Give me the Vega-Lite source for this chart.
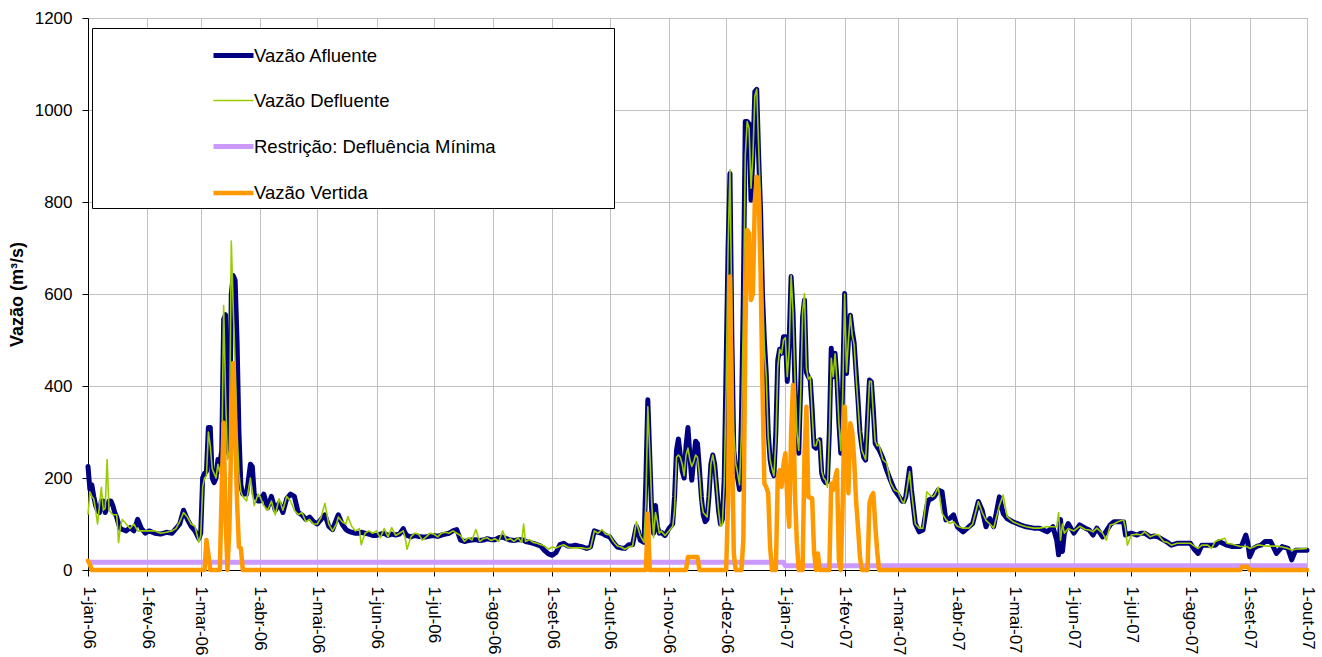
{
"$schema": "https://vega.github.io/schema/vega-lite/v6.json",
"width": 1219, "height": 552,
"autosize": {"type": "none"},
"padding": {"left": 88, "top": 18, "right": 15, "bottom": 87},
"background": "white",
"config": {"view": {"stroke": "#909090", "strokeWidth": 1}, "font": "Liberation Sans"},
"data": {"values": [
{"d":"2006-01-01","a":225,"f":120,"r":17,"v":20},
{"d":"2006-01-02","a":175,"f":170,"r":17,"v":12},
{"d":"2006-01-03","a":185,"f":160,"r":17,"v":0},
{"d":"2006-01-04","a":160,"f":155,"r":17,"v":0},
{"d":"2006-01-05","a":140,"f":130,"r":17,"v":0},
{"d":"2006-01-06","a":130,"f":100,"r":17,"v":0},
{"d":"2006-01-07","a":125,"f":140,"r":17,"v":0},
{"d":"2006-01-08","a":150,"f":180,"r":17,"v":0},
{"d":"2006-01-09","a":150,"f":130,"r":17,"v":0},
{"d":"2006-01-10","a":125,"f":135,"r":17,"v":0},
{"d":"2006-01-11","a":135,"f":240,"r":17,"v":0},
{"d":"2006-01-12","a":150,"f":130,"r":17,"v":0},
{"d":"2006-01-13","a":150,"f":125,"r":17,"v":0},
{"d":"2006-01-14","a":140,"f":120,"r":17,"v":0},
{"d":"2006-01-15","a":125,"f":120,"r":17,"v":0},
{"d":"2006-01-16","a":115,"f":120,"r":17,"v":0},
{"d":"2006-01-17","a":100,"f":60,"r":17,"v":0},
{"d":"2006-01-18","a":90,"f":95,"r":17,"v":0},
{"d":"2006-01-19","a":88,"f":110,"r":17,"v":0},
{"d":"2006-01-21","a":85,"f":100,"r":17,"v":0},
{"d":"2006-01-23","a":92,"f":90,"r":17,"v":0},
{"d":"2006-01-25","a":85,"f":100,"r":17,"v":0},
{"d":"2006-01-27","a":110,"f":85,"r":17,"v":0},
{"d":"2006-01-29","a":90,"f":85,"r":17,"v":0},
{"d":"2006-01-31","a":80,"f":85,"r":17,"v":0},
{"d":"2006-02-02","a":85,"f":85,"r":17,"v":0},
{"d":"2006-02-05","a":80,"f":85,"r":17,"v":0},
{"d":"2006-02-08","a":78,"f":80,"r":17,"v":0},
{"d":"2006-02-11","a":82,"f":82,"r":17,"v":0},
{"d":"2006-02-14","a":80,"f":85,"r":17,"v":0},
{"d":"2006-02-16","a":90,"f":90,"r":17,"v":0},
{"d":"2006-02-18","a":100,"f":105,"r":17,"v":0},
{"d":"2006-02-20","a":130,"f":125,"r":17,"v":0},
{"d":"2006-02-22","a":110,"f":115,"r":17,"v":0},
{"d":"2006-02-24","a":95,"f":100,"r":17,"v":0},
{"d":"2006-02-26","a":85,"f":95,"r":17,"v":0},
{"d":"2006-02-28","a":68,"f":60,"r":17,"v":0},
{"d":"2006-03-01","a":80,"f":75,"r":17,"v":0},
{"d":"2006-03-02","a":200,"f":180,"r":17,"v":0},
{"d":"2006-03-03","a":210,"f":200,"r":17,"v":0},
{"d":"2006-03-04","a":215,"f":205,"r":17,"v":65},
{"d":"2006-03-05","a":310,"f":300,"r":17,"v":35},
{"d":"2006-03-06","a":310,"f":270,"r":17,"v":0},
{"d":"2006-03-07","a":200,"f":220,"r":17,"v":0},
{"d":"2006-03-08","a":190,"f":210,"r":17,"v":0},
{"d":"2006-03-09","a":200,"f":200,"r":17,"v":0},
{"d":"2006-03-10","a":240,"f":230,"r":17,"v":0},
{"d":"2006-03-11","a":230,"f":210,"r":17,"v":0},
{"d":"2006-03-12","a":260,"f":230,"r":17,"v":180},
{"d":"2006-03-13","a":545,"f":575,"r":17,"v":320},
{"d":"2006-03-14","a":555,"f":380,"r":17,"v":110},
{"d":"2006-03-15","a":260,"f":240,"r":17,"v":0},
{"d":"2006-03-16","a":250,"f":260,"r":17,"v":90},
{"d":"2006-03-17","a":600,"f":715,"r":17,"v":300},
{"d":"2006-03-18","a":640,"f":570,"r":17,"v":450},
{"d":"2006-03-19","a":630,"f":450,"r":17,"v":300},
{"d":"2006-03-20","a":500,"f":300,"r":17,"v":150},
{"d":"2006-03-21","a":300,"f":210,"r":17,"v":50},
{"d":"2006-03-22","a":185,"f":170,"r":17,"v":48},
{"d":"2006-03-23","a":165,"f":160,"r":17,"v":0},
{"d":"2006-03-25","a":165,"f":150,"r":17,"v":0},
{"d":"2006-03-27","a":230,"f":200,"r":17,"v":0},
{"d":"2006-03-28","a":225,"f":170,"r":17,"v":0},
{"d":"2006-03-29","a":165,"f":140,"r":17,"v":0},
{"d":"2006-03-31","a":150,"f":165,"r":17,"v":0},
{"d":"2006-04-01","a":150,"f":160,"r":17,"v":0},
{"d":"2006-04-03","a":165,"f":140,"r":17,"v":0},
{"d":"2006-04-05","a":135,"f":130,"r":17,"v":0},
{"d":"2006-04-07","a":160,"f":150,"r":17,"v":0},
{"d":"2006-04-09","a":130,"f":120,"r":17,"v":0},
{"d":"2006-04-11","a":145,"f":155,"r":17,"v":0},
{"d":"2006-04-13","a":125,"f":130,"r":17,"v":0},
{"d":"2006-04-15","a":155,"f":160,"r":17,"v":0},
{"d":"2006-04-17","a":165,"f":150,"r":17,"v":0},
{"d":"2006-04-19","a":160,"f":130,"r":17,"v":0},
{"d":"2006-04-21","a":125,"f":120,"r":17,"v":0},
{"d":"2006-04-23","a":120,"f":125,"r":17,"v":0},
{"d":"2006-04-25","a":110,"f":105,"r":17,"v":0},
{"d":"2006-04-27","a":115,"f":110,"r":17,"v":0},
{"d":"2006-04-29","a":105,"f":100,"r":17,"v":0},
{"d":"2006-05-01","a":100,"f":100,"r":17,"v":0},
{"d":"2006-05-03","a":110,"f":115,"r":17,"v":0},
{"d":"2006-05-05","a":120,"f":145,"r":17,"v":0},
{"d":"2006-05-07","a":95,"f":100,"r":17,"v":0},
{"d":"2006-05-09","a":88,"f":85,"r":17,"v":0},
{"d":"2006-05-11","a":110,"f":100,"r":17,"v":0},
{"d":"2006-05-12","a":120,"f":115,"r":17,"v":0},
{"d":"2006-05-14","a":100,"f":105,"r":17,"v":0},
{"d":"2006-05-16","a":88,"f":100,"r":17,"v":0},
{"d":"2006-05-17","a":85,"f":116,"r":17,"v":0},
{"d":"2006-05-19","a":82,"f":95,"r":17,"v":0},
{"d":"2006-05-21","a":80,"f":85,"r":17,"v":0},
{"d":"2006-05-23","a":80,"f":90,"r":17,"v":0},
{"d":"2006-05-24","a":82,"f":55,"r":17,"v":0},
{"d":"2006-05-26","a":80,"f":80,"r":17,"v":0},
{"d":"2006-05-28","a":78,"f":85,"r":17,"v":0},
{"d":"2006-05-30","a":75,"f":80,"r":17,"v":0},
{"d":"2006-06-01","a":75,"f":85,"r":17,"v":0},
{"d":"2006-06-03","a":78,"f":70,"r":17,"v":0},
{"d":"2006-06-05","a":80,"f":90,"r":17,"v":0},
{"d":"2006-06-07","a":75,"f":72,"r":17,"v":0},
{"d":"2006-06-09","a":78,"f":92,"r":17,"v":0},
{"d":"2006-06-11","a":76,"f":75,"r":17,"v":0},
{"d":"2006-06-13","a":78,"f":80,"r":17,"v":0},
{"d":"2006-06-15","a":90,"f":85,"r":17,"v":0},
{"d":"2006-06-16","a":80,"f":70,"r":17,"v":0},
{"d":"2006-06-17","a":75,"f":45,"r":17,"v":0},
{"d":"2006-06-19","a":72,"f":72,"r":17,"v":0},
{"d":"2006-06-21","a":75,"f":80,"r":17,"v":0},
{"d":"2006-06-23","a":73,"f":78,"r":17,"v":0},
{"d":"2006-06-25","a":72,"f":65,"r":17,"v":0},
{"d":"2006-06-27","a":72,"f":72,"r":17,"v":0},
{"d":"2006-06-29","a":74,"f":80,"r":17,"v":0},
{"d":"2006-07-01","a":75,"f":78,"r":17,"v":0},
{"d":"2006-07-03","a":73,"f":72,"r":17,"v":0},
{"d":"2006-07-05","a":76,"f":80,"r":17,"v":0},
{"d":"2006-07-07","a":78,"f":82,"r":17,"v":0},
{"d":"2006-07-09","a":80,"f":80,"r":17,"v":0},
{"d":"2006-07-11","a":85,"f":85,"r":17,"v":0},
{"d":"2006-07-13","a":88,"f":80,"r":17,"v":0},
{"d":"2006-07-15","a":65,"f":75,"r":17,"v":0},
{"d":"2006-07-17","a":62,"f":62,"r":17,"v":0},
{"d":"2006-07-19","a":64,"f":70,"r":17,"v":0},
{"d":"2006-07-21","a":65,"f":65,"r":17,"v":0},
{"d":"2006-07-23","a":66,"f":88,"r":17,"v":0},
{"d":"2006-07-25","a":64,"f":62,"r":17,"v":0},
{"d":"2006-07-27","a":65,"f":68,"r":17,"v":0},
{"d":"2006-07-29","a":68,"f":70,"r":17,"v":0},
{"d":"2006-07-31","a":66,"f":64,"r":17,"v":0},
{"d":"2006-08-02","a":66,"f":68,"r":17,"v":0},
{"d":"2006-08-04","a":70,"f":62,"r":17,"v":0},
{"d":"2006-08-06","a":72,"f":85,"r":17,"v":0},
{"d":"2006-08-08","a":68,"f":65,"r":17,"v":0},
{"d":"2006-08-10","a":65,"f":68,"r":17,"v":0},
{"d":"2006-08-12","a":64,"f":62,"r":17,"v":0},
{"d":"2006-08-14","a":66,"f":70,"r":17,"v":0},
{"d":"2006-08-16","a":66,"f":60,"r":17,"v":0},
{"d":"2006-08-17","a":65,"f":100,"r":17,"v":0},
{"d":"2006-08-18","a":62,"f":62,"r":17,"v":0},
{"d":"2006-08-20","a":60,"f":66,"r":17,"v":0},
{"d":"2006-08-22","a":58,"f":60,"r":17,"v":0},
{"d":"2006-08-24","a":55,"f":58,"r":17,"v":0},
{"d":"2006-08-26","a":52,"f":55,"r":17,"v":0},
{"d":"2006-08-28","a":42,"f":52,"r":17,"v":0},
{"d":"2006-08-30","a":35,"f":45,"r":17,"v":0},
{"d":"2006-09-01","a":32,"f":50,"r":17,"v":0},
{"d":"2006-09-03","a":38,"f":48,"r":17,"v":0},
{"d":"2006-09-05","a":55,"f":52,"r":17,"v":0},
{"d":"2006-09-07","a":58,"f":55,"r":17,"v":0},
{"d":"2006-09-09","a":52,"f":50,"r":17,"v":0},
{"d":"2006-09-11","a":52,"f":48,"r":17,"v":0},
{"d":"2006-09-13","a":54,"f":48,"r":17,"v":0},
{"d":"2006-09-15","a":52,"f":48,"r":17,"v":0},
{"d":"2006-09-17","a":50,"f":48,"r":17,"v":0},
{"d":"2006-09-19","a":47,"f":46,"r":17,"v":0},
{"d":"2006-09-21","a":50,"f":48,"r":17,"v":0},
{"d":"2006-09-23","a":85,"f":85,"r":17,"v":0},
{"d":"2006-09-25","a":82,"f":80,"r":17,"v":0},
{"d":"2006-09-27","a":80,"f":88,"r":17,"v":0},
{"d":"2006-09-29","a":75,"f":78,"r":17,"v":0},
{"d":"2006-10-01","a":72,"f":76,"r":17,"v":0},
{"d":"2006-10-03","a":60,"f":62,"r":17,"v":0},
{"d":"2006-10-05","a":50,"f":52,"r":17,"v":0},
{"d":"2006-10-07","a":48,"f":50,"r":17,"v":0},
{"d":"2006-10-09","a":47,"f":45,"r":17,"v":0},
{"d":"2006-10-11","a":55,"f":50,"r":17,"v":0},
{"d":"2006-10-13","a":55,"f":52,"r":17,"v":0},
{"d":"2006-10-15","a":95,"f":105,"r":17,"v":0},
{"d":"2006-10-16","a":85,"f":90,"r":17,"v":0},
{"d":"2006-10-17","a":65,"f":75,"r":17,"v":0},
{"d":"2006-10-19","a":60,"f":60,"r":17,"v":0},
{"d":"2006-10-20","a":200,"f":150,"r":17,"v":0},
{"d":"2006-10-21","a":370,"f":355,"r":17,"v":123},
{"d":"2006-10-22","a":250,"f":260,"r":17,"v":0},
{"d":"2006-10-23","a":130,"f":150,"r":17,"v":0},
{"d":"2006-10-24","a":80,"f":70,"r":17,"v":0},
{"d":"2006-10-25","a":140,"f":125,"r":17,"v":0},
{"d":"2006-10-26","a":95,"f":105,"r":17,"v":0},
{"d":"2006-10-27","a":80,"f":80,"r":17,"v":0},
{"d":"2006-10-28","a":82,"f":85,"r":17,"v":0},
{"d":"2006-10-30","a":75,"f":75,"r":17,"v":0},
{"d":"2006-11-01","a":90,"f":85,"r":17,"v":0},
{"d":"2006-11-03","a":100,"f":95,"r":17,"v":0},
{"d":"2006-11-04","a":160,"f":130,"r":17,"v":0},
{"d":"2006-11-05","a":260,"f":245,"r":17,"v":0},
{"d":"2006-11-06","a":285,"f":250,"r":17,"v":0},
{"d":"2006-11-07","a":250,"f":245,"r":17,"v":0},
{"d":"2006-11-08","a":215,"f":230,"r":17,"v":0},
{"d":"2006-11-09","a":200,"f":205,"r":17,"v":0},
{"d":"2006-11-10","a":270,"f":250,"r":17,"v":0},
{"d":"2006-11-11","a":310,"f":265,"r":17,"v":28},
{"d":"2006-11-12","a":250,"f":240,"r":17,"v":28},
{"d":"2006-11-13","a":195,"f":225,"r":17,"v":28},
{"d":"2006-11-14","a":240,"f":235,"r":17,"v":28},
{"d":"2006-11-15","a":280,"f":250,"r":17,"v":28},
{"d":"2006-11-16","a":275,"f":245,"r":17,"v":28},
{"d":"2006-11-17","a":220,"f":210,"r":17,"v":0},
{"d":"2006-11-18","a":160,"f":150,"r":17,"v":0},
{"d":"2006-11-19","a":120,"f":125,"r":17,"v":0},
{"d":"2006-11-20","a":105,"f":120,"r":17,"v":0},
{"d":"2006-11-21","a":110,"f":115,"r":17,"v":0},
{"d":"2006-11-22","a":160,"f":160,"r":17,"v":0},
{"d":"2006-11-23","a":230,"f":230,"r":17,"v":0},
{"d":"2006-11-24","a":250,"f":250,"r":17,"v":0},
{"d":"2006-11-25","a":230,"f":225,"r":17,"v":0},
{"d":"2006-11-26","a":180,"f":180,"r":17,"v":0},
{"d":"2006-11-27","a":130,"f":130,"r":17,"v":0},
{"d":"2006-11-28","a":100,"f":95,"r":17,"v":0},
{"d":"2006-11-29","a":110,"f":100,"r":17,"v":0},
{"d":"2006-11-30","a":200,"f":190,"r":17,"v":0},
{"d":"2006-12-01","a":450,"f":400,"r":17,"v":0},
{"d":"2006-12-02","a":700,"f":700,"r":17,"v":150},
{"d":"2006-12-03","a":862,"f":870,"r":17,"v":638},
{"d":"2006-12-04","a":500,"f":550,"r":17,"v":300},
{"d":"2006-12-05","a":260,"f":300,"r":17,"v":36},
{"d":"2006-12-06","a":220,"f":230,"r":17,"v":0},
{"d":"2006-12-07","a":200,"f":210,"r":17,"v":0},
{"d":"2006-12-08","a":175,"f":185,"r":17,"v":0},
{"d":"2006-12-09","a":330,"f":300,"r":17,"v":0},
{"d":"2006-12-10","a":600,"f":550,"r":17,"v":65},
{"d":"2006-12-11","a":975,"f":900,"r":17,"v":500},
{"d":"2006-12-12","a":975,"f":975,"r":17,"v":739},
{"d":"2006-12-13","a":970,"f":960,"r":17,"v":732},
{"d":"2006-12-14","a":804,"f":830,"r":17,"v":587},
{"d":"2006-12-15","a":900,"f":900,"r":17,"v":601},
{"d":"2006-12-16","a":1040,"f":1030,"r":17,"v":800},
{"d":"2006-12-17","a":1045,"f":1045,"r":17,"v":855},
{"d":"2006-12-18","a":900,"f":920,"r":17,"v":820},
{"d":"2006-12-19","a":783,"f":800,"r":17,"v":650},
{"d":"2006-12-20","a":600,"f":620,"r":17,"v":400},
{"d":"2006-12-21","a":500,"f":480,"r":17,"v":188},
{"d":"2006-12-22","a":425,"f":420,"r":17,"v":180},
{"d":"2006-12-23","a":300,"f":290,"r":17,"v":167},
{"d":"2006-12-24","a":240,"f":240,"r":17,"v":50},
{"d":"2006-12-25","a":215,"f":220,"r":17,"v":0},
{"d":"2006-12-26","a":205,"f":205,"r":17,"v":0},
{"d":"2006-12-27","a":300,"f":280,"r":17,"v":0},
{"d":"2006-12-28","a":456,"f":440,"r":17,"v":200},
{"d":"2006-12-29","a":480,"f":480,"r":17,"v":217},
{"d":"2006-12-30","a":471,"f":470,"r":17,"v":181},
{"d":"2006-12-31","a":507,"f":500,"r":17,"v":230},
{"d":"2007-01-01","a":507,"f":505,"r":9,"v":254},
{"d":"2007-01-02","a":410,"f":420,"r":9,"v":150},
{"d":"2007-01-03","a":500,"f":480,"r":9,"v":94},
{"d":"2007-01-04","a":638,"f":640,"r":9,"v":300},
{"d":"2007-01-05","a":560,"f":560,"r":9,"v":402},
{"d":"2007-01-06","a":400,"f":420,"r":9,"v":167},
{"d":"2007-01-07","a":300,"f":300,"r":9,"v":60},
{"d":"2007-01-08","a":254,"f":260,"r":9,"v":0},
{"d":"2007-01-09","a":400,"f":380,"r":9,"v":0},
{"d":"2007-01-10","a":550,"f":560,"r":9,"v":0},
{"d":"2007-01-11","a":587,"f":601,"r":9,"v":250},
{"d":"2007-01-12","a":430,"f":440,"r":9,"v":355},
{"d":"2007-01-13","a":420,"f":415,"r":9,"v":159},
{"d":"2007-01-14","a":413,"f":420,"r":9,"v":157},
{"d":"2007-01-15","a":350,"f":340,"r":9,"v":156},
{"d":"2007-01-16","a":268,"f":270,"r":9,"v":40},
{"d":"2007-01-17","a":265,"f":270,"r":9,"v":0},
{"d":"2007-01-18","a":280,"f":285,"r":9,"v":36},
{"d":"2007-01-19","a":283,"f":280,"r":9,"v":0},
{"d":"2007-01-20","a":210,"f":215,"r":9,"v":0},
{"d":"2007-01-21","a":196,"f":200,"r":9,"v":0},
{"d":"2007-01-22","a":190,"f":195,"r":9,"v":0},
{"d":"2007-01-23","a":192,"f":180,"r":9,"v":0},
{"d":"2007-01-24","a":300,"f":290,"r":9,"v":0},
{"d":"2007-01-25","a":482,"f":460,"r":9,"v":188},
{"d":"2007-01-26","a":420,"f":420,"r":9,"v":174},
{"d":"2007-01-27","a":471,"f":470,"r":9,"v":200},
{"d":"2007-01-28","a":413,"f":410,"r":9,"v":217},
{"d":"2007-01-29","a":320,"f":320,"r":9,"v":22},
{"d":"2007-01-30","a":254,"f":260,"r":9,"v":0},
{"d":"2007-01-31","a":400,"f":380,"r":9,"v":150},
{"d":"2007-02-01","a":601,"f":600,"r":9,"v":355},
{"d":"2007-02-02","a":427,"f":430,"r":9,"v":250},
{"d":"2007-02-03","a":500,"f":500,"r":9,"v":167},
{"d":"2007-02-04","a":554,"f":554,"r":9,"v":319},
{"d":"2007-02-05","a":520,"f":510,"r":9,"v":300},
{"d":"2007-02-06","a":493,"f":490,"r":9,"v":239},
{"d":"2007-02-07","a":430,"f":420,"r":9,"v":150},
{"d":"2007-02-08","a":370,"f":360,"r":9,"v":94},
{"d":"2007-02-09","a":300,"f":300,"r":9,"v":30},
{"d":"2007-02-10","a":268,"f":260,"r":9,"v":0},
{"d":"2007-02-11","a":245,"f":250,"r":9,"v":0},
{"d":"2007-02-12","a":239,"f":240,"r":9,"v":0},
{"d":"2007-02-13","a":330,"f":320,"r":9,"v":0},
{"d":"2007-02-14","a":413,"f":410,"r":9,"v":145},
{"d":"2007-02-15","a":409,"f":410,"r":9,"v":160},
{"d":"2007-02-16","a":350,"f":340,"r":9,"v":167},
{"d":"2007-02-17","a":275,"f":280,"r":9,"v":100},
{"d":"2007-02-18","a":268,"f":270,"r":9,"v":43},
{"d":"2007-02-19","a":262,"f":272,"r":9,"v":0},
{"d":"2007-02-21","a":243,"f":240,"r":9,"v":0},
{"d":"2007-02-23","a":217,"f":232,"r":9,"v":0},
{"d":"2007-02-25","a":195,"f":190,"r":9,"v":0},
{"d":"2007-02-27","a":175,"f":174,"r":9,"v":0},
{"d":"2007-03-01","a":163,"f":170,"r":9,"v":0},
{"d":"2007-03-03","a":150,"f":150,"r":9,"v":0},
{"d":"2007-03-04","a":149,"f":145,"r":9,"v":0},
{"d":"2007-03-05","a":159,"f":160,"r":9,"v":0},
{"d":"2007-03-07","a":221,"f":214,"r":9,"v":0},
{"d":"2007-03-08","a":174,"f":170,"r":9,"v":0},
{"d":"2007-03-10","a":101,"f":100,"r":9,"v":0},
{"d":"2007-03-12","a":83,"f":91,"r":9,"v":0},
{"d":"2007-03-14","a":87,"f":91,"r":9,"v":0},
{"d":"2007-03-16","a":138,"f":170,"r":9,"v":0},
{"d":"2007-03-17","a":152,"f":165,"r":9,"v":0},
{"d":"2007-03-19","a":156,"f":159,"r":9,"v":0},
{"d":"2007-03-20","a":160,"f":162,"r":9,"v":0},
{"d":"2007-03-22","a":174,"f":180,"r":9,"v":0},
{"d":"2007-03-24","a":170,"f":123,"r":9,"v":0},
{"d":"2007-03-26","a":109,"f":110,"r":9,"v":0},
{"d":"2007-03-28","a":112,"f":101,"r":9,"v":0},
{"d":"2007-03-30","a":120,"f":105,"r":9,"v":0},
{"d":"2007-04-01","a":94,"f":95,"r":9,"v":0},
{"d":"2007-04-04","a":83,"f":91,"r":9,"v":0},
{"d":"2007-04-07","a":94,"f":91,"r":9,"v":0},
{"d":"2007-04-09","a":101,"f":100,"r":9,"v":0},
{"d":"2007-04-12","a":149,"f":149,"r":9,"v":0},
{"d":"2007-04-14","a":130,"f":125,"r":9,"v":0},
{"d":"2007-04-16","a":94,"f":108,"r":9,"v":0},
{"d":"2007-04-18","a":112,"f":100,"r":9,"v":0},
{"d":"2007-04-20","a":94,"f":91,"r":9,"v":0},
{"d":"2007-04-23","a":159,"f":140,"r":9,"v":0},
{"d":"2007-04-25","a":123,"f":163,"r":9,"v":0},
{"d":"2007-04-27","a":112,"f":116,"r":9,"v":0},
{"d":"2007-04-30","a":105,"f":105,"r":9,"v":0},
{"d":"2007-05-04","a":98,"f":98,"r":9,"v":0},
{"d":"2007-05-07","a":94,"f":94,"r":9,"v":0},
{"d":"2007-05-11","a":91,"f":91,"r":9,"v":0},
{"d":"2007-05-14","a":91,"f":91,"r":9,"v":0},
{"d":"2007-05-18","a":83,"f":94,"r":9,"v":0},
{"d":"2007-05-21","a":94,"f":94,"r":9,"v":0},
{"d":"2007-05-23","a":65,"f":94,"r":9,"v":0},
{"d":"2007-05-24","a":33,"f":125,"r":9,"v":0},
{"d":"2007-05-25","a":110,"f":65,"r":9,"v":0},
{"d":"2007-05-26","a":40,"f":100,"r":9,"v":0},
{"d":"2007-05-27","a":80,"f":80,"r":9,"v":0},
{"d":"2007-05-29","a":101,"f":90,"r":9,"v":0},
{"d":"2007-06-01","a":80,"f":85,"r":9,"v":0},
{"d":"2007-06-04","a":98,"f":95,"r":9,"v":0},
{"d":"2007-06-07","a":91,"f":88,"r":9,"v":0},
{"d":"2007-06-09","a":87,"f":87,"r":9,"v":0},
{"d":"2007-06-11","a":76,"f":83,"r":9,"v":0},
{"d":"2007-06-13","a":91,"f":91,"r":9,"v":0},
{"d":"2007-06-16","a":72,"f":80,"r":9,"v":0},
{"d":"2007-06-18","a":85,"f":65,"r":9,"v":0},
{"d":"2007-06-20","a":98,"f":98,"r":9,"v":0},
{"d":"2007-06-22","a":105,"f":100,"r":9,"v":0},
{"d":"2007-06-24","a":105,"f":105,"r":9,"v":0},
{"d":"2007-06-27","a":105,"f":109,"r":9,"v":0},
{"d":"2007-06-28","a":76,"f":90,"r":9,"v":0},
{"d":"2007-06-29","a":78,"f":54,"r":9,"v":0},
{"d":"2007-07-01","a":80,"f":76,"r":9,"v":0},
{"d":"2007-07-04","a":76,"f":78,"r":9,"v":0},
{"d":"2007-07-06","a":80,"f":76,"r":9,"v":0},
{"d":"2007-07-08","a":80,"f":83,"r":9,"v":0},
{"d":"2007-07-11","a":72,"f":72,"r":9,"v":0},
{"d":"2007-07-13","a":74,"f":76,"r":9,"v":0},
{"d":"2007-07-15","a":72,"f":77,"r":9,"v":0},
{"d":"2007-07-18","a":65,"f":62,"r":9,"v":0},
{"d":"2007-07-20","a":60,"f":60,"r":9,"v":0},
{"d":"2007-07-22","a":54,"f":54,"r":9,"v":0},
{"d":"2007-07-25","a":58,"f":58,"r":9,"v":0},
{"d":"2007-07-29","a":58,"f":58,"r":9,"v":0},
{"d":"2007-08-01","a":58,"f":58,"r":9,"v":0},
{"d":"2007-08-03","a":45,"f":52,"r":9,"v":0},
{"d":"2007-08-05","a":36,"f":47,"r":9,"v":0},
{"d":"2007-08-07","a":54,"f":54,"r":9,"v":0},
{"d":"2007-08-10","a":54,"f":54,"r":9,"v":0},
{"d":"2007-08-12","a":54,"f":47,"r":9,"v":0},
{"d":"2007-08-14","a":54,"f":62,"r":9,"v":0},
{"d":"2007-08-16","a":62,"f":65,"r":9,"v":0},
{"d":"2007-08-19","a":56,"f":69,"r":9,"v":0},
{"d":"2007-08-20","a":54,"f":58,"r":9,"v":0},
{"d":"2007-08-23","a":51,"f":56,"r":9,"v":0},
{"d":"2007-08-27","a":51,"f":51,"r":9,"v":0},
{"d":"2007-08-28","a":55,"f":51,"r":9,"v":7},
{"d":"2007-08-30","a":76,"f":51,"r":9,"v":7},
{"d":"2007-08-31","a":60,"f":50,"r":9,"v":7},
{"d":"2007-09-01","a":29,"f":47,"r":9,"v":0},
{"d":"2007-09-03","a":47,"f":50,"r":9,"v":0},
{"d":"2007-09-05","a":52,"f":54,"r":9,"v":0},
{"d":"2007-09-07","a":54,"f":54,"r":9,"v":0},
{"d":"2007-09-09","a":62,"f":52,"r":9,"v":0},
{"d":"2007-09-12","a":62,"f":52,"r":9,"v":0},
{"d":"2007-09-15","a":36,"f":52,"r":9,"v":0},
{"d":"2007-09-18","a":51,"f":50,"r":9,"v":0},
{"d":"2007-09-21","a":47,"f":47,"r":9,"v":0},
{"d":"2007-09-23","a":22,"f":43,"r":9,"v":0},
{"d":"2007-09-25","a":43,"f":45,"r":9,"v":0},
{"d":"2007-09-28","a":43,"f":46,"r":9,"v":0},
{"d":"2007-10-01","a":43,"f":47,"r":9,"v":0}
]},
"transform": [{"fold": ["a", "f", "r", "v"], "as": ["k", "val"]}],
"encoding": {
  "x": {"field": "d", "type": "temporal",
    "scale": {"type": "utc", "domain": [{"year": 2006, "month": 1, "date": 1, "utc": true}, {"year": 2007, "month": 10, "date": 1, "utc": true}]},
    "axis": {"title": null, "tickCount": {"interval": "month", "step": 1},
      "labelExpr": "'1-' + ['jan','fev','mar','abr','mai','jun','jul','ago','set','out','nov','dez'][utcmonth(datum.value)] + '-' + utcFormat(datum.value, '%y')",
      "labelAngle": 90, "labelAlign": "left", "labelBaseline": "middle", "labelFontSize": 17, "labelFont": "Liberation Sans", "labelColor": "#000000",
      "labelPadding": 10, "tickSize": 6, "tickColor": "#000000", "domainColor": "#000000", "grid": true, "gridColor": "#c0c0c0",
      "labelFlush": false, "labelOverlap": false}},
  "y": {"field": "val", "type": "quantitative",
    "scale": {"domain": [0, 1200], "nice": false},
    "axis": {"title": "Vazão (m³/s)", "values": [0, 200, 400, 600, 800, 1000, 1200], "format": "d",
      "labelFontSize": 17, "labelFont": "Liberation Sans", "labelColor": "#000000", "labelPadding": 10, "tickSize": 6, "tickColor": "#000000",
      "domainColor": "#000000", "grid": true, "gridColor": "#c0c0c0",
      "titleFont": "Liberation Sans", "titleFontSize": 18, "titleFontWeight": "bold", "titleColor": "#000000",
      "titleX": -71, "titleY": 276, "titleAngle": -90, "titleAlign": "center", "titleBaseline": "middle"}},
  "color": {"field": "k", "type": "nominal",
    "scale": {"domain": ["a", "f", "r", "v"], "range": ["#000080", "#99CC00", "#CC99FF", "#FF9900"]},
    "legend": {"title": " ", "orient": "none", "legendX": 4, "legendY": 10, "padding": 5, "fillColor": "white", "strokeColor": "#000000",
      "titleOrient": "right", "titlePadding": 113, "symbolType": "stroke", "symbolSize": 1600, "symbolOffset": 114, "labelOffset": -2, "rowPadding": 13.5,
      "labelFont": "Liberation Sans", "labelFontSize": 18.5, "labelColor": "#000000", "labelLimit": 400,
      "labelExpr": "datum.label == 'a' ? 'Vazão Afluente' : datum.label == 'f' ? 'Vazão Defluente' : datum.label == 'r' ? 'Restrição: Defluência Mínima' : 'Vazão Vertida'"}},
  "strokeWidth": {"field": "k", "type": "nominal",
    "scale": {"type": "ordinal", "domain": ["a", "f", "r", "v"], "range": [5, 1.6, 5, 4.5]},
    "legend": {"title": " ", "orient": "none", "legendX": 4, "legendY": 10, "padding": 5, "fillColor": "white", "strokeColor": "#000000",
      "titleOrient": "right", "titlePadding": 113, "symbolType": "stroke", "symbolSize": 1600, "symbolOffset": 114, "labelOffset": -2, "rowPadding": 13.5,
      "labelFont": "Liberation Sans", "labelFontSize": 18.5, "labelColor": "#000000", "labelLimit": 400,
      "labelExpr": "datum.label == 'a' ? 'Vazão Afluente' : datum.label == 'f' ? 'Vazão Defluente' : datum.label == 'r' ? 'Restrição: Defluência Mínima' : 'Vazão Vertida'"}}
},
"layer": [
  {"transform": [{"filter": "datum.k == 'a'"}], "mark": {"type": "line", "strokeJoin": "round", "strokeCap": "round"}, "encoding": {}},
  {"transform": [{"filter": "datum.k == 'f'"}], "mark": {"type": "line", "strokeJoin": "round"}, "encoding": {}},
  {"transform": [{"filter": "datum.k == 'r'"}], "mark": {"type": "line", "strokeJoin": "round"}, "encoding": {}},
  {"transform": [{"filter": "datum.k == 'v'"}], "mark": {"type": "line", "strokeJoin": "round", "strokeCap": "round"}, "encoding": {}}
]
}
